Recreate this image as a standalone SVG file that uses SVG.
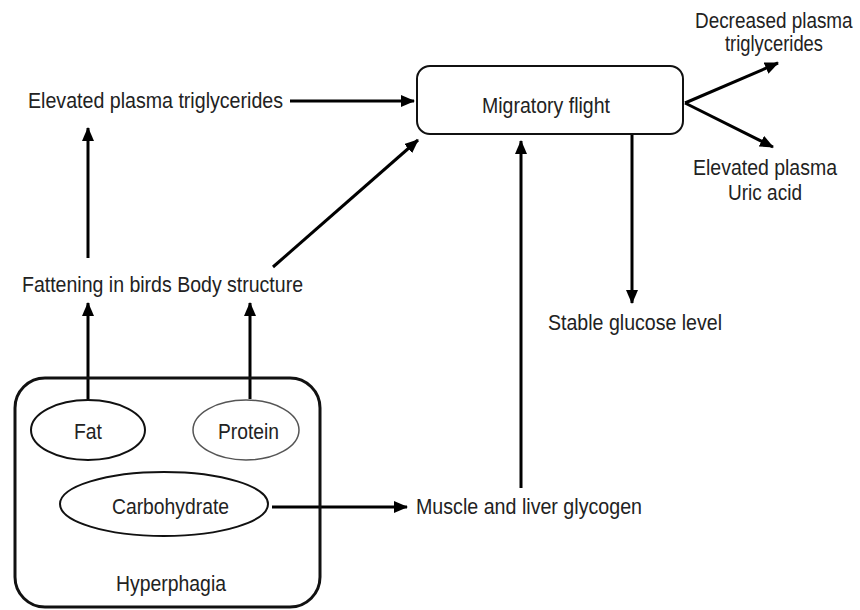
<svg xmlns="http://www.w3.org/2000/svg" width="860" height="610" viewBox="0 0 860 610">
<style>
text{font-family:"Liberation Sans",Arial,sans-serif;font-size:22px;fill:#222;}
.c{stroke:#000;stroke-width:3;fill:none;}
</style>
<defs>
<marker id="ah" markerUnits="userSpaceOnUse" markerWidth="14" markerHeight="12" refX="13" refY="6" orient="auto">
<path d="M0,0 L14,6 L0,12 z" fill="#000"/>
</marker>
</defs>
<rect width="860" height="610" fill="#fff"/>
<g id="connectors">
<line class="c" x1="290" y1="101" x2="414" y2="101" marker-end="url(#ah)"/>
<line class="c" x1="88" y1="258" x2="88" y2="128" marker-end="url(#ah)"/>
<line class="c" x1="273" y1="267" x2="418" y2="140" marker-end="url(#ah)"/>
<line class="c" x1="88" y1="399" x2="88" y2="303" marker-end="url(#ah)"/>
<line class="c" x1="250" y1="399" x2="250" y2="303" marker-end="url(#ah)"/>
<line class="c" x1="272" y1="507" x2="407" y2="507" marker-end="url(#ah)"/>
<line class="c" x1="521" y1="488" x2="521" y2="141" marker-end="url(#ah)"/>
<line class="c" x1="632" y1="135" x2="632" y2="303" marker-end="url(#ah)"/>
<line class="c" x1="685" y1="103" x2="778" y2="63" marker-end="url(#ah)"/>
<line class="c" x1="685" y1="103" x2="773" y2="147" marker-end="url(#ah)"/>
</g>
<g id="migratory">
<rect x="417" y="66" width="266" height="68" rx="13" fill="#fff" stroke="#111" stroke-width="2"/>
<text x="482" y="113" textLength="128" lengthAdjust="spacingAndGlyphs">Migratory flight</text>
</g>
<g id="elev-trig">
<text x="28" y="108" textLength="255" lengthAdjust="spacingAndGlyphs">Elevated plasma triglycerides</text>
</g>
<g id="fattening">
<text x="22" y="292" textLength="281" lengthAdjust="spacingAndGlyphs">Fattening in birds Body structure</text>
</g>
<g id="decreased">
<text transform="translate(695,28) scale(0.86,1)">Decreased plasma</text>
<text x="725" y="51" textLength="98" lengthAdjust="spacingAndGlyphs">triglycerides</text>
</g>
<g id="uric">
<text x="693" y="175" textLength="144" lengthAdjust="spacingAndGlyphs">Elevated plasma</text>
<text x="728" y="200" textLength="74" lengthAdjust="spacingAndGlyphs">Uric acid</text>
</g>
<g id="glucose">
<text x="548" y="330" textLength="174" lengthAdjust="spacingAndGlyphs">Stable glucose level</text>
</g>
<g id="glycogen">
<text x="416" y="514" textLength="226" lengthAdjust="spacingAndGlyphs">Muscle and liver glycogen</text>
</g>
<g id="hyperphagia">
<rect x="15" y="378" width="305" height="229" rx="30" fill="none" stroke="#111" stroke-width="3"/>
<text x="116" y="591" textLength="110" lengthAdjust="spacingAndGlyphs">Hyperphagia</text>
</g>
<g id="fat">
<ellipse cx="88" cy="430" rx="57" ry="30" fill="#fff" stroke="#111" stroke-width="2"/>
<text x="74" y="439" textLength="28" lengthAdjust="spacingAndGlyphs">Fat</text>
</g>
<g id="protein">
<ellipse cx="246" cy="430" rx="53" ry="30" fill="#fff" stroke="#555" stroke-width="1.5"/>
<text x="218" y="439" textLength="61" lengthAdjust="spacingAndGlyphs">Protein</text>
</g>
<g id="carbohydrate">
<ellipse cx="164" cy="504" rx="104" ry="32" fill="#fff" stroke="#111" stroke-width="2"/>
<text x="112" y="514" textLength="117" lengthAdjust="spacingAndGlyphs">Carbohydrate</text>
</g>
</svg>
